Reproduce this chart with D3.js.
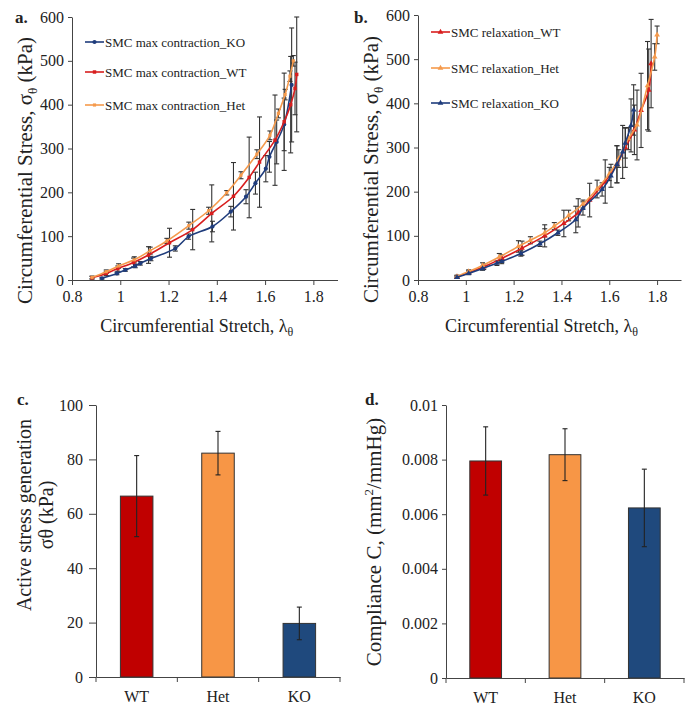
<!DOCTYPE html>
<html>
<head>
<meta charset="utf-8">
<script src="https://d3js.org/d3.v7.min.js"></script>
<style>
  body { margin: 0; background: #fff; }
  svg text { font-family: "Liberation Serif", "Times New Roman", serif; fill: #222; }
  .axis path, .axis line { stroke: #444; stroke-width: 1; }
  .axis text { font-size: 16px; }
</style>
</head>
<body>
<svg id="fig" width="691" height="708"></svg>
<script>
// ---- panel a: SMC max contraction ----
const aKoX  = [0.924, 0.986, 1.021, 1.062, 1.083, 1.127, 1.228, 1.283, 1.382, 1.458, 1.521, 1.56, 1.603, 1.618, 1.648, 1.679, 1.71];
const aKoY  = [4, 15, 23, 32, 38, 49, 72, 99, 122, 156, 190, 221, 254, 281, 315, 355, 445];
const aKoE  = [2, 3, 3, 4, 4, 5, 6, 6, 12, 12, 16, 25, 30, 35, 50, 60, 130];
const aWtX  = [0.883, 0.942, 0.99, 1.055, 1.117, 1.204, 1.30, 1.379, 1.469, 1.534, 1.577, 1.641, 1.679, 1.706, 1.724, 1.731];
const aWtY  = [5, 15, 26, 40, 57, 85, 115, 152, 191, 234, 269, 319, 361, 400, 437, 469];
const aWtE  = [3, 5, 6, 10, 19, 33, 46, 65, 77, 92, 103, 103, 111, 110, 60, 131];
const aHetX = [0.883, 0.942, 0.993, 1.058, 1.124, 1.193, 1.284, 1.366, 1.441, 1.50, 1.566, 1.62, 1.655, 1.683, 1.703, 1.717];
const aHetY = [6, 19, 32, 46, 67, 89, 124, 158, 199, 239, 287, 330, 380, 423, 465, 500];
const aHetE = [3, 4, 5, 7, 8, 6, 8, 8, 5, 8, 10, 10, 10, 12, 12, 12];

// ---- panel b: SMC relaxation ----
const bWtX  = [0.963, 1.012, 1.075, 1.151, 1.235, 1.33, 1.41, 1.47, 1.518, 1.583, 1.632, 1.667, 1.705, 1.733, 1.765, 1.775];
const bWtY  = [7, 17, 30, 49, 72, 100, 128, 152, 181, 223, 262, 300, 340, 384, 430, 490];
const bWtE  = [3, 4, 6, 8, 16, 25, 30, 32, 38, 49, 42, 45, 56, 84, 93, 100];
const bHetX = [0.963, 1.012, 1.07, 1.14, 1.22, 1.27, 1.33, 1.37, 1.43, 1.49, 1.549, 1.60, 1.64, 1.68, 1.716, 1.76, 1.79, 1.80];
const bHetY = [8, 19, 33, 52, 76, 90, 107, 122, 146, 172, 206, 240, 275, 320, 351, 440, 505, 555];
const bHetE = [3, 4, 6, 8, 13, 8, 9, 8, 12, 9, 20, 15, 20, 25, 79, 100, 30, 20];
const bKoX  = [0.963, 1.012, 1.07, 1.13, 1.15, 1.23, 1.31, 1.385, 1.46, 1.49, 1.57, 1.607, 1.632, 1.656, 1.667, 1.691, 1.702];
const bKoY  = [6, 15, 26, 38, 42, 60, 82, 107, 137, 162, 205, 236, 262, 290, 310, 350, 385];
const bKoE  = [2, 3, 4, 5, 5, 6, 6, 6, 30, 15, 15, 26, 42, 60, 34, 60, 57];

const stretchTicks = [0.8, 1, 1.2, 1.4, 1.6, 1.8];
const stressTicks = [0, 100, 200, 300, 400, 500, 600];

// ---- panels c, d: bars ----
const groups = ["WT", "Het", "KO"];
const activeStress = [66.5, 82.3, 19.7];
const activeErr = [14.9, 8.0, 6.0];
const compliance = [0.00795, 0.00818, 0.00623];
const complianceErr = [0.00125, 0.00095, 0.00142];
const activeTicks = [0, 20, 40, 60, 80, 100];
const complianceTicks = [0, 0.002, 0.004, 0.006, 0.008, 0.01];

const SERIF = "Liberation Serif, Times New Roman, serif";
const RED = "#d81e1e", ORANGE = "#f59a4c", BLUE = "#1f3c7c";
const barColors = ["#c00000", "#f79646", "#1f497d"];

const svg = d3.select("#fig");
const zip = (xs, ys, es) => xs.map((d, i) => ({x: d, y: ys[i], e: es[i]}));

function stressPanel(xr, yr, series, legendX, legendY, letter, letterX) {
  const x = d3.scaleLinear().domain([0.8, 1.9]).range(xr);
  const y = d3.scaleLinear().domain([0, 600]).range(yr);
  const g = svg.append("g");

  g.append("g").attr("class", "axis")
    .attr("transform", `translate(0,${yr[0]})`)
    .call(d3.axisBottom(x).tickValues(stretchTicks).tickSize(5).tickSizeOuter(0).tickPadding(6)
      .tickFormat(d => d === 1 ? "1" : d3.format(".1f")(d)))
    .attr("font-family", SERIF);
  g.append("g").attr("class", "axis")
    .attr("transform", `translate(${xr[0]},0)`)
    .call(d3.axisLeft(y).tickValues(stressTicks).tickSize(4).tickSizeOuter(0).tickPadding(4))
    .attr("font-family", SERIF);

  const line = d3.line().x(d => x(d.x)).y(d => y(d.y)).curve(d3.curveCatmullRom.alpha(0.5));

  series.forEach(s => {
    const eb = g.append("g").attr("stroke", "#333").attr("stroke-width", 1.1);
    s.data.forEach(d => {
      eb.append("line").attr("x1", x(d.x)).attr("x2", x(d.x)).attr("y1", y(d.y - d.e)).attr("y2", y(d.y + d.e));
      [d.y - d.e, d.y + d.e].forEach(v => eb.append("line")
        .attr("x1", x(d.x) - 2.5).attr("x2", x(d.x) + 2.5).attr("y1", y(v)).attr("y2", y(v)));
    });
  });
  series.forEach(s => {
    g.append("path").datum(s.data).attr("fill", "none").attr("stroke", s.color)
      .attr("stroke-width", 1.6).attr("d", line);
    g.append("g").selectAll("path").data(s.data).join("path")
      .attr("transform", d => `translate(${x(d.x)},${y(d.y)})`)
      .attr("d", d3.symbol().type(s.symbol).size(s.size))
      .attr("fill", s.color);
  });

  // legend
  series.forEach((s, i) => {
    const ly = legendY[i];
    g.append("line").attr("x1", legendX).attr("x2", legendX + 19).attr("y1", ly).attr("y2", ly)
      .attr("stroke", s.color).attr("stroke-width", 1.6);
    g.append("path").attr("transform", `translate(${legendX + 9.5},${ly})`)
      .attr("d", d3.symbol().type(s.symbol).size(s.size)).attr("fill", s.color);
    g.append("text").attr("x", legendX + 20).attr("y", ly + 5).attr("font-size", 13).text(s.name);
  });

  // axis titles
  const yt = g.append("text").attr("font-size", 21)
    .attr("transform", `translate(${xr[0] - 40},${(yr[0] + yr[1]) / 2 + 22}) rotate(-90)`)
    .attr("text-anchor", "middle");
  yt.append("tspan").text("Circumferential Stress, σ");
  yt.append("tspan").attr("font-size", 13).attr("dy", 5).text("θ");
  yt.append("tspan").attr("dy", -5).text(" (kPa)");

  const xt = g.append("text").attr("font-size", 18).attr("text-anchor", "middle")
    .attr("x", (xr[0] + xr[1]) / 2 - 8).attr("y", yr[0] + 52);
  xt.append("tspan").text("Circumferential Stretch, λ");
  xt.append("tspan").attr("font-size", 12).attr("dy", 4).text("θ");

  g.append("text").attr("x", letterX).attr("y", 23).attr("font-size", 17).attr("font-weight", "bold").text(letter);
}

stressPanel([72, 337.5], [280, 17], [
  {name: "SMC max contraction_KO", color: BLUE, symbol: d3.symbolCircle, size: 14, data: zip(aKoX, aKoY, aKoE)},
  {name: "SMC max contraction_WT", color: RED, symbol: d3.symbolSquare, size: 12, data: zip(aWtX, aWtY, aWtE)},
  {name: "SMC max contraction_Het", color: ORANGE, symbol: d3.symbolSquare, size: 10, data: zip(aHetX, aHetY, aHetE)}
], 85, [42, 72, 105], "a.", 15);

stressPanel([418, 681], [280, 15], [
  {name: "SMC relaxation_WT", color: RED, symbol: d3.symbolTriangle, size: 14, data: zip(bWtX, bWtY, bWtE)},
  {name: "SMC relaxation_Het", color: ORANGE, symbol: d3.symbolTriangle, size: 14, data: zip(bHetX, bHetY, bHetE)},
  {name: "SMC relaxation_KO", color: BLUE, symbol: d3.symbolTriangle, size: 14, data: zip(bKoX, bKoY, bKoE)}
], 431, [32, 68, 103], "b.", 354);

function barPanel(xr, yr, values, errs, ticks, fmt, tickSize, tickPad, letter, letterX) {
  const x = d3.scaleBand().domain(groups).range(xr).paddingInner(0.6).paddingOuter(0.3);
  const y = d3.scaleLinear().domain([ticks[0], ticks[ticks.length - 1]]).range(yr);
  const g = svg.append("g");

  g.selectAll("rect").data(values).join("rect")
    .attr("x", (d, i) => x(groups[i])).attr("width", x.bandwidth())
    .attr("y", d => y(d)).attr("height", d => y(0) - y(d))
    .attr("fill", (d, i) => barColors[i]).attr("stroke", "#333").attr("stroke-width", 1);

  values.forEach((v, i) => {
    const cx = x(groups[i]) + x.bandwidth() / 2;
    g.append("line").attr("x1", cx).attr("x2", cx).attr("y1", y(v - errs[i])).attr("y2", y(v + errs[i]))
      .attr("stroke", "#222").attr("stroke-width", 1.1);
    [v - errs[i], v + errs[i]].forEach(e => g.append("line")
      .attr("x1", cx - 2.5).attr("x2", cx + 2.5).attr("y1", y(e)).attr("y2", y(e))
      .attr("stroke", "#222").attr("stroke-width", 1.1));
  });

  const xa = g.append("g").attr("class", "axis").attr("transform", `translate(0,${yr[0]})`)
    .call(d3.axisBottom(x).tickSize(0).tickSizeOuter(0).tickPadding(14))
    .attr("font-family", SERIF);
  xa.selectAll("text").attr("font-size", 16);
  // divider ticks between categories
  d3.range(groups.length + 1).forEach(i => {
    const tx = xr[0] + i * x.step();
    xa.append("line").attr("x1", tx).attr("x2", tx).attr("y1", 0).attr("y2", 5).attr("stroke", "#444");
  });

  g.append("g").attr("class", "axis").attr("transform", `translate(${xr[0]},0)`)
    .call(d3.axisLeft(y).tickValues(ticks).tickSize(tickSize).tickSizeOuter(0).tickPadding(tickPad).tickFormat(fmt))
    .attr("font-family", SERIF)
    .selectAll("text").attr("font-size", 17);

  g.append("text").attr("x", letterX).attr("y", 405).attr("font-size", 17).attr("font-weight", "bold").text(letter);
  return g;
}

const gc = barPanel([96, 340], [677, 405], activeStress, activeErr, activeTicks, d3.format("d"), 7, 6, "c.", 17);
const tc = gc.append("text").attr("font-size", 20).attr("text-anchor", "middle")
  .attr("transform", "translate(31,515) rotate(-90)");
tc.append("tspan").attr("x", 0).attr("dy", 0).text("Active stress generation");
tc.append("tspan").attr("x", 0).attr("dy", 22).text("σθ (kPa)");

const gd = barPanel([446, 684], [678, 405], compliance, complianceErr, complianceTicks,
  d => d === 0 ? "0" : (d === 0.01 ? "0.01" : d3.format(".3f")(d)), 4, 4, "d.", 365);
const td = gd.append("text").attr("font-size", 21).attr("text-anchor", "middle")
  .attr("transform", "translate(381,542) rotate(-90)");
td.append("tspan").text("Compliance C, (mm");
td.append("tspan").attr("font-size", 13).attr("dy", -8).text("2");
td.append("tspan").attr("dy", 8).text("/mmHg)");
</script>
</body>
</html>
